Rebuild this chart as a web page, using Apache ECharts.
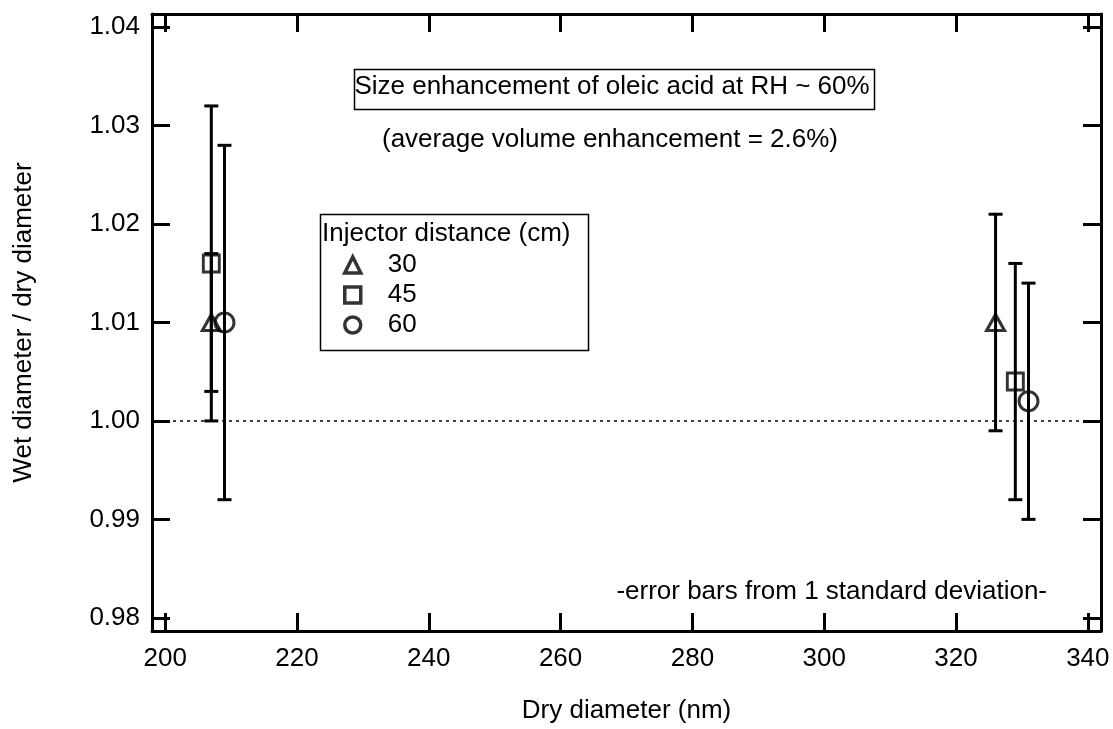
<!DOCTYPE html>
<html>
<head>
<meta charset="utf-8">
<script src="https://cdn.jsdelivr.net/npm/echarts@6/dist/echarts.min.js"></script>
<style>
  html, body { margin: 0; padding: 0; background: #fff; }
  #chart { width: 1113px; height: 729px; }
</style>
</head>
<body>
<div id="chart"></div>
<script>
// dry diameter (nm), wet/dry ratio and 1-sigma error, per injector distance
const injectorNames = ['30', '45', '60'];
const dry30 = [207, 326];
const ratio30 = [1.010, 1.010];
const err30 = [0.007, 0.011];
const dry45 = [207, 329];
const ratio45 = [1.016, 1.004];
const err45 = [0.016, 0.012];
const dry60 = [209, 331];
const ratio60 = [1.010, 1.002];
const err60 = [0.018, 0.012];

const xTicks = [200, 220, 240, 260, 280, 300, 320, 340];
const yTicks = [0.98, 0.99, 1.00, 1.01, 1.02, 1.03, 1.04];
const refLine = 1.00;

const FONT = '"Liberation Sans", Arial, sans-serif';
const FS = 26;
const black = '#000';

const chart = echarts.init(document.getElementById('chart'));

function pts(xs, ys, es) {
    return xs.map((x, i) => [x, ys[i], es[i]]);
}

const groups = [
    { name: injectorNames[0], data: pts(dry30, ratio30, err30), symbol: 'triangle', size: [18, 16] },
    { name: injectorNames[1], data: pts(dry45, ratio45, err45), symbol: 'rect', size: [16, 17] },
    { name: injectorNames[2], data: pts(dry60, ratio60, err60), symbol: 'circle', size: 19 }
];

// vertical error bar with caps
function errorBar(params, api) {
    const x = api.value(0), y = api.value(1), e = api.value(2);
    const top = api.coord([x, y + e]);
    const bot = api.coord([x, y - e]);
    const cap = 7;
    const style = { stroke: black, lineWidth: 3 };
    return {
        type: 'group',
        children: [
            { type: 'line', shape: { x1: top[0], y1: top[1], x2: bot[0], y2: bot[1] }, style: style },
            { type: 'line', shape: { x1: top[0] - cap, y1: top[1], x2: top[0] + cap, y2: top[1] }, style: style },
            { type: 'line', shape: { x1: bot[0] - cap, y1: bot[1], x2: bot[0] + cap, y2: bot[1] }, style: style }
        ]
    };
}

let series = [];
groups.forEach(g => {
    series.push({
        type: 'custom',
        name: g.name + ' err',
        renderItem: errorBar,
        data: g.data,
        z: 2,
        silent: true
    });
});
groups.forEach((g, i) => {
    series.push({
        type: 'scatter',
        name: g.name,
        symbol: g.symbol,
        symbolSize: g.size,
        data: g.data,
        z: 3,
        itemStyle: { color: 'rgba(0,0,0,0)', borderColor: black, borderWidth: 3 },
        markLine: i === 0 ? {
            silent: true,
            symbol: 'none',
            label: { show: false },
            lineStyle: { color: black, type: [3, 4], width: 1.5 },
            data: [{ yAxis: refLine }]
        } : undefined
    });
});

const tickStyle = { show: true, inside: true, length: 18, lineStyle: { color: black, width: 3 } };
const lineStyle = { show: true, onZero: false, lineStyle: { color: black, width: 3 } };

const option = {
    animation: false,
    textStyle: { fontFamily: FONT },
    grid: { left: 152, top: 14, width: 949, height: 621 },
    legend: {
        data: injectorNames,
        orient: 'vertical',
        left: 338,
        top: 247,
        itemWidth: 16,
        itemHeight: 16,
        itemGap: 4,
        textStyle: { fontFamily: FONT, fontSize: FS, color: black, padding: [0, 0, 0, 22] },
        itemStyle: { color: 'rgba(0,0,0,0)', borderColor: black, borderWidth: 3.5 }
    },
    xAxis: [{
        type: 'value', min: 198, max: 342,
        axisLine: lineStyle,
        axisTick: Object.assign({ customValues: xTicks }, tickStyle),
        axisLabel: { customValues: xTicks, color: black, fontSize: FS, margin: 15, fontFamily: FONT },
        splitLine: { show: false },
        name: 'Dry diameter (nm)',
        nameLocation: 'middle',
        nameGap: 67,
        nameTextStyle: { color: black, fontSize: FS, fontFamily: FONT }
    }, {
        type: 'value', min: 198, max: 342, position: 'top',
        axisLine: lineStyle,
        axisTick: Object.assign({ customValues: xTicks }, tickStyle),
        axisLabel: { show: false },
        splitLine: { show: false }
    }],
    yAxis: [{
        type: 'value', min: 0.97866, max: 1.04134,
        axisLine: lineStyle,
        axisTick: Object.assign({ customValues: yTicks }, tickStyle),
        axisLabel: { customValues: yTicks, color: black, fontSize: FS, margin: 12, fontFamily: FONT,
            formatter: v => v.toFixed(2) },
        splitLine: { show: false },
        name: 'Wet diameter / dry diameter',
        nameLocation: 'middle',
        nameGap: 115,
        nameTextStyle: { color: black, fontSize: FS, fontFamily: FONT }
    }, {
        type: 'value', min: 0.97866, max: 1.04134, position: 'right',
        axisLine: lineStyle,
        axisTick: Object.assign({ customValues: yTicks }, tickStyle),
        axisLabel: { show: false },
        splitLine: { show: false }
    }],
    graphic: [
        { type: 'rect', left: 352, top: 67, shape: { width: 520, height: 40 },
          style: { fill: 'none', stroke: black, lineWidth: 1.5 } },
        { type: 'text', x: 612, y: 87,
          style: { text: 'Size enhancement of oleic acid at RH ~ 60%', font: FS + 'px ' + FONT, fill: black,
                   textAlign: 'center', textVerticalAlign: 'middle' } },
        { type: 'text', x: 610, y: 140,
          style: { text: '(average volume enhancement = 2.6%)', font: FS + 'px ' + FONT, fill: black,
                   textAlign: 'center', textVerticalAlign: 'middle' } },
        { type: 'rect', left: 318, top: 212, shape: { width: 268, height: 136 },
          style: { fill: 'none', stroke: black, lineWidth: 1.5 } },
        { type: 'text', x: 322, y: 234,
          style: { text: 'Injector distance (cm)', font: FS + 'px ' + FONT, fill: black,
                   textAlign: 'left', textVerticalAlign: 'middle' } },
        { type: 'text', x: 1047, y: 592,
          style: { text: '-error bars from 1 standard deviation-', font: FS + 'px ' + FONT, fill: black,
                   textAlign: 'right', textVerticalAlign: 'middle' } }
    ],
    series: series
};

chart.setOption(option);
</script>
</body>
</html>
